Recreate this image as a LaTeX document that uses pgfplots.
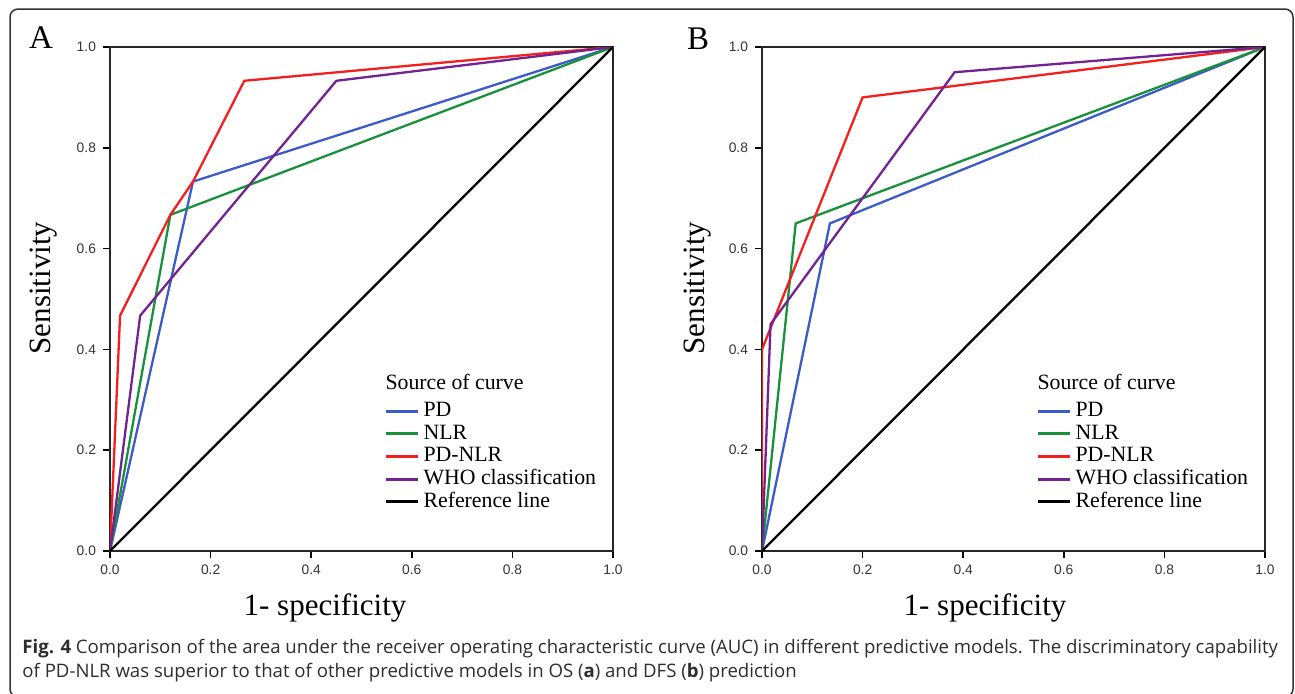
\documentclass[border=0pt]{standalone}
\usepackage{fontspec}
\setmainfont{Liberation Serif}
\newfontfamily\tickfont{Liberation Sans}
\newfontfamily\capfont{Open Sans}
\usepackage{pgfplots}
\pgfplotsset{compat=1.18}

\definecolor{cPD}{RGB}{60,90,200}
\definecolor{cNLR}{RGB}{25,145,60}
\definecolor{cPDNLR}{RGB}{245,30,30}
\definecolor{cWHO}{RGB}{115,35,145}
\definecolor{capgray}{RGB}{45,45,45}

% one reference pixel = 0.5pt
\pgfplotsset{
  rocax/.style={
    scale only axis, width=251.5pt, height=252pt,
    xmin=0, xmax=1, ymin=0, ymax=1,
    xtick={0,0.2,0.4,0.6,0.8,1}, ytick={0,0.2,0.4,0.6,0.8,1},
    tick pos=left, tick align=outside, major tick length=3.5pt,
    tick style={black, line width=0.75pt},
    axis line style={black!85, line width=0.75pt},
    ticklabel style={font=\tickfont\fontsize{6.9}{8}\selectfont, text=black!80},
    /pgf/number format/fixed, /pgf/number format/fixed zerofill,
    /pgf/number format/precision=1, /pgf/number format/assume math mode=true,
    every axis plot/.append style={line width=1.15pt},
    legend style={at={(0.545,0.346)}, anchor=north west, draw=none, fill=none,
      font=\fontsize{10.9}{11.25}\selectfont, row sep=0pt, column sep=2pt,
      inner sep=0pt, nodes={inner sep=0pt, text height=8.35pt, text depth=3pt}},
    legend cell align=left,
    legend image code/.code={\draw[#1, line width=1.5pt] (0pt,0pt) -- (16pt,0pt);},
  }
}
\newcommand{\ltitle}{\hspace*{-19pt}\raisebox{2.25pt}{Source of curve}}

\begin{document}
\begin{tikzpicture}
\useasboundingbox (0,0) rectangle (647.5pt,-346.5pt);
\clip (0,0) rectangle (647.5pt,-346.5pt);
\draw[black!80, line width=0.75pt, rounded corners=4pt] (5pt,-4.5pt) rectangle (646.5pt,-348.5pt);

% panel A: overall survival
\begin{axis}[rocax, at={(55pt,-275.5pt)}, anchor=south west]
\addlegendimage{empty legend}
\addplot[cPD] coordinates {(0,0) (0.165,0.733) (1,1)};
\addplot[cNLR] coordinates {(0,0) (0.12,0.667) (1,1)};
\addplot[cPDNLR] coordinates {(0,0) (0.02,0.467) (0.12,0.667) (0.165,0.733) (0.267,0.933) (1,1)};
\addplot[cWHO] coordinates {(0,0) (0.06,0.467) (0.45,0.933) (1,1)};
\addplot[black] coordinates {(0,0) (1,1)};
\legend{\ltitle, PD, NLR, PD-NLR, WHO classification, Reference line}
\end{axis}

% panel B: disease-free survival
\begin{axis}[rocax, at={(381pt,-275.5pt)}, anchor=south west]
\addlegendimage{empty legend}
\addplot[cPD] coordinates {(0,0) (0.135,0.65) (1,1)};
\addplot[cNLR] coordinates {(0,0) (0.067,0.65) (1,1)};
\addplot[cPDNLR] coordinates {(0,0) (0,0.4) (0.2,0.9) (1,1)};
\addplot[cWHO] coordinates {(0,0) (0.017,0.45) (0.383,0.95) (1,1)};
\addplot[black] coordinates {(0,0) (1,1)};
\legend{\ltitle, PD, NLR, PD-NLR, WHO classification, Reference line}
\end{axis}

\node[font=\fontsize{16.5}{18}\selectfont] at (20.5pt,-19pt) {A};
\node[font=\fontsize{16.5}{18}\selectfont] at (349pt,-19.5pt) {B};
\node[rotate=90, font=\fontsize{15.5}{17}\selectfont] at (22pt,-144pt) {Sensitivity};
\node[rotate=90, font=\fontsize{15.5}{17}\selectfont] at (349pt,-144pt) {Sensitivity};
\node[font=\fontsize{15.5}{17}\selectfont] at (162.5pt,-304pt) {1- specificity};
\node[font=\fontsize{15.5}{17}\selectfont] at (492.5pt,-304pt) {1- specificity};

\node[anchor=base west, align=left, inner sep=0pt, text=capgray,
  font=\capfont\fontsize{9.3}{12}\selectfont] at (11pt,-338.5pt)
  {\textbf{Fig. 4} Comparison of the area under the receiver operating characteristic curve (AUC) in different predictive models. The discriminatory capability\\
   of PD-NLR was superior to that of other predictive models in OS (\textbf{a}) and DFS (\textbf{b}) prediction};
\end{tikzpicture}
\end{document}
